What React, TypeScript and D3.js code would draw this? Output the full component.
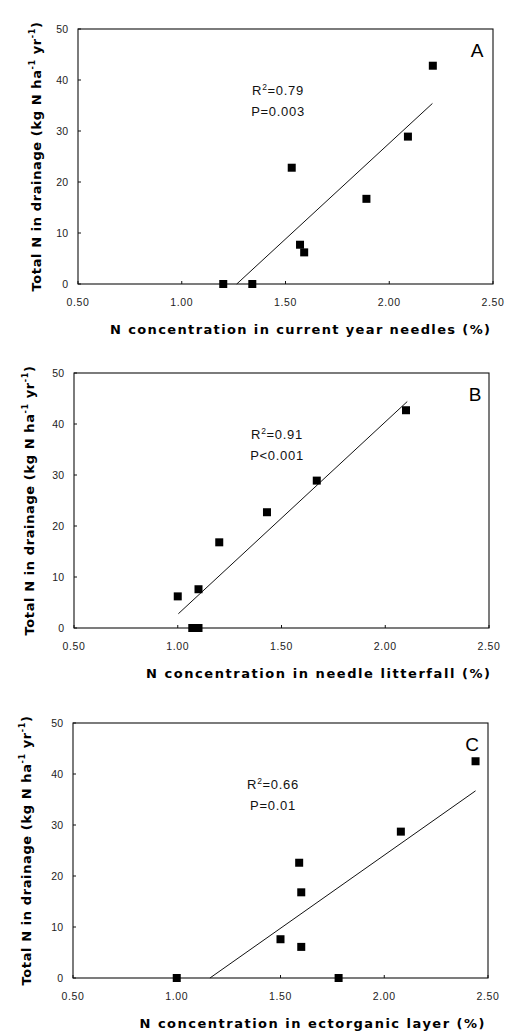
import * as d3 from 'd3';

// axis ticks shared by all three panels
const xTicks = [0.5, 1.0, 1.5, 2.0, 2.5];
const yTicks = [0, 10, 20, 30, 40, 50];

// A: current year needles
const needleX = [1.2, 1.34, 1.53, 1.57, 1.59, 1.89, 2.09, 2.21];
const needleY = [0, 0, 22.8, 7.7, 6.2, 16.7, 28.9, 42.8];
const needleFitX = [1.265, 2.208];
const needleFitY = [0, 35.4];

// B: needle litterfall
const litterX = [1.0, 1.07, 1.1, 1.1, 1.2, 1.43, 1.67, 2.1];
const litterY = [6.2, 0, 0, 7.6, 16.8, 22.7, 28.9, 42.7];
const litterFitX = [1.003, 2.106];
const litterFitY = [2.8, 44.4];

// C: ectorganic layer
const ectoX = [1.0, 1.5, 1.59, 1.6, 1.6, 1.78, 2.08, 2.44];
const ectoY = [0, 7.6, 22.6, 16.8, 6.1, 0, 28.7, 42.5];
const ectoFitX = [1.16, 2.44];
const ectoFitY = [0, 36.7];

const yLabel = 'Total N in drainage (kg N ha';

interface PanelProps {
  left: number;
  right: number;
  top: number;
  bottom: number;
  xs: number[];
  ys: number[];
  fitX: number[];
  fitY: number[];
  r2: string;
  p: string;
  statX: number;
  letter: string;
  letterX: number;
  xTitle: string;
  xTitleX: number;
  xTitleLen: number;
  yTitleX: number;
}

function Panel(props: PanelProps) {
  const { left, right, top, bottom, xs, ys, fitX, fitY } = props;
  const x = d3.scaleLinear().domain([0.5, 2.5]).range([left, right]);
  const y = d3.scaleLinear().domain([0, 50]).range([bottom, top]);
  const sq = 8;
  const fit = d3.line<number>()
    .x(d => x(fitX[d]))
    .y(d => y(fitY[d]));
  const font = 'Arial, "Liberation Sans", sans-serif';
  const titleFont = '"DejaVu Sans", Verdana, sans-serif';
  const yMid = (top + bottom) / 2;

  return (
    <g fontFamily={font}>
      <rect x={left} y={top} width={right - left} height={bottom - top}
        fill="none" stroke="#111" strokeWidth={1.1} />
      {xTicks.map(t => (
        <g key={'x' + t}>
          <line x1={x(t)} x2={x(t)} y1={bottom} y2={bottom - 3} stroke="#111" />
          <text x={x(t)} y={bottom + 22} textAnchor="middle" fontSize={10.5}
            letterSpacing={0.6} fill="#222">{t.toFixed(2)}</text>
        </g>
      ))}
      {yTicks.map(t => (
        <g key={'y' + t}>
          <line x1={left} x2={left + 3} y1={y(t)} y2={y(t)} stroke="#111" />
          <text x={left - 10} y={y(t) + 4} textAnchor="end" fontSize={10.5}
            fill="#222">{t}</text>
        </g>
      ))}
      <path d={fit([0, 1]) || ''} fill="none" stroke="#111" strokeWidth={1} />
      {xs.map((v, i) => (
        <rect key={i} x={x(v) - sq / 2} y={y(ys[i]) - sq / 2} width={sq} height={sq}
          fill="#000" />
      ))}
      <text x={props.statX} y={top + 66} textAnchor="middle" fontSize={13}
        letterSpacing={0.7} fill="#111">
        R<tspan fontSize={8.5} dy={-5}>2</tspan><tspan dy={5}>={props.r2}</tspan>
      </text>
      <text x={props.statX} y={top + 87} textAnchor="middle" fontSize={13}
        letterSpacing={0.7} fill="#111">{props.p}</text>
      <text x={props.letterX} y={top + 28} textAnchor="middle" fontSize={19}
        fill="#000">{props.letter}</text>
      <text x={props.xTitleX} y={bottom + 50} textAnchor="middle" fontSize={13}
        fontFamily={titleFont} fontWeight="bold" textLength={props.xTitleLen}
        lengthAdjust="spacing" fill="#000">{props.xTitle}</text>
      <text transform={`translate(${props.yTitleX},${yMid}) rotate(-90)`}
        textAnchor="middle" fontSize={13} fontFamily={titleFont} fontWeight="bold"
        letterSpacing={0.6} fill="#000">
        {yLabel}<tspan fontSize={8} dy={-6}>-1</tspan>
        <tspan dy={6}> yr</tspan><tspan fontSize={8} dy={-6}>-1</tspan>
        <tspan dy={6}>)</tspan>
      </text>
    </g>
  );
}

export default function App() {
  return (
    <svg width={509} height={1033}
      style={{ position: 'absolute', left: 0, top: 0, background: '#fff' }}>
      <Panel left={78} right={493} top={29} bottom={284}
        xs={needleX} ys={needleY} fitX={needleFitX} fitY={needleFitY}
        r2="0.79" p="P=0.003" statX={278} letter="A" letterX={477}
        xTitle="N concentration in current year needles (%)" xTitleX={300}
        xTitleLen={380} yTitleX={41} />
      <Panel left={74} right={489} top={373} bottom={628}
        xs={litterX} ys={litterY} fitX={litterFitX} fitY={litterFitY}
        r2="0.91" p="P<0.001" statX={277} letter="B" letterX={475}
        xTitle="N concentration in needle litterfall (%)" xTitleX={318}
        xTitleLen={344} yTitleX={34} />
      <Panel left={73} right={488} top={723} bottom={978}
        xs={ectoX} ys={ectoY} fitX={ectoFitX} fitY={ectoFitY}
        r2="0.66" p="P=0.01" statX={273} letter="C" letterX={472}
        xTitle="N concentration in ectorganic layer (%)" xTitleX={312}
        xTitleLen={345} yTitleX={31} />
    </svg>
  );
}
